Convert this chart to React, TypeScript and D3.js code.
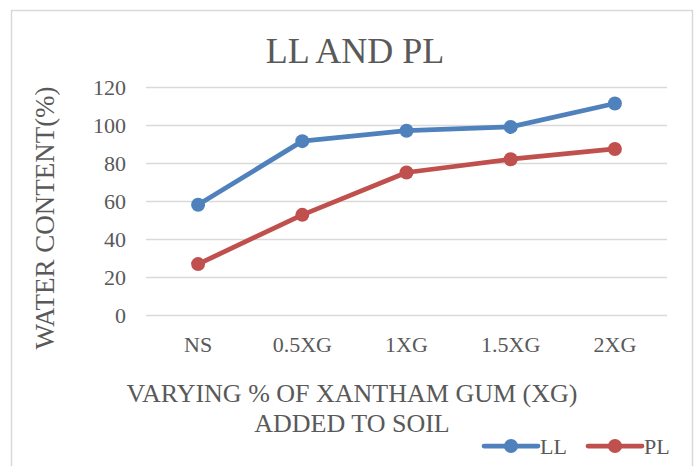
import { useEffect, useRef } from "react";
import * as d3 from "d3";

const categories = ["NS", "0.5XG", "1XG", "1.5XG", "2XG"];
const llValues = [58, 91.5, 97, 99, 111.3];
const plValues = [26.8, 52.7, 75, 82, 87.4];
const yTicks = [0, 20, 40, 60, 80, 100, 120];

const series = [
  { name: "LL", values: llValues, color: "#4F81BD" },
  { name: "PL", values: plValues, color: "#C0504D" },
];

const FONT = "'Liberation Serif', 'Times New Roman', serif";

const App = () => {
  const svgRef = useRef<SVGSVGElement | null>(null);

  useEffect(() => {
    if (!svgRef.current) return;
    const svg = d3.select(svgRef.current);
    svg.selectAll("*").remove();

    const width = 696;
    const height = 466;
    const margin = { top: 87, right: 29, bottom: 151, left: 146 };

    // chart frame
    svg
      .append("rect")
      .attr("x", 11.5)
      .attr("y", 10.5)
      .attr("width", 681)
      .attr("height", 480)
      .attr("fill", "#fff")
      .attr("stroke", "#d9d9d9")
      .attr("stroke-width", 1.5);

    const x = d3
      .scaleBand()
      .domain(categories)
      .range([margin.left, width - margin.right]);

    const y = d3
      .scaleLinear()
      .domain([0, 120])
      .range([height - margin.bottom, margin.top]);

    // gridlines + y labels
    const yAxis = svg
      .append("g")
      .attr("class", "y-axis")
      .attr("transform", `translate(${margin.left},0)`)
      .call(
        d3
          .axisLeft(y)
          .tickValues(yTicks)
          .tickSize(-(width - margin.left - margin.right))
          .tickPadding(20)
      );
    yAxis.select(".domain").remove();
    yAxis.selectAll("line").attr("stroke", "#d9d9d9").attr("stroke-width", 1.5);
    yAxis
      .selectAll("text")
      .attr("fill", "#595959")
      .style("font-size", "22px")
      .style("font-family", FONT);

    // x labels
    const xAxis = svg
      .append("g")
      .attr("class", "x-axis")
      .attr("transform", `translate(0,${height - margin.bottom})`)
      .call(d3.axisBottom(x).tickSize(0).tickPadding(21));
    xAxis.select(".domain").remove();
    xAxis
      .selectAll("text")
      .attr("fill", "#595959")
      .style("font-size", "22px")
      .style("font-family", FONT);

    // lines
    series.forEach((s) => {
      const line = d3
        .line<number>()
        .x((_, i) => (x(categories[i]) || 0) + x.bandwidth() / 2)
        .y((d) => y(d));
      svg
        .append("path")
        .datum(s.values)
        .attr("d", line)
        .attr("fill", "none")
        .attr("stroke", s.color)
        .attr("stroke-width", 4.75)
        .attr("stroke-linejoin", "round")
        .attr("stroke-linecap", "round");
      svg
        .append("g")
        .selectAll("circle")
        .data(s.values)
        .enter()
        .append("circle")
        .attr("cx", (_, i) => (x(categories[i]) || 0) + x.bandwidth() / 2)
        .attr("cy", (d) => y(d))
        .attr("r", 7)
        .attr("fill", s.color);
    });

    // title
    svg
      .append("text")
      .attr("x", 355)
      .attr("y", 63)
      .attr("text-anchor", "middle")
      .attr("fill", "#595959")
      .style("font-size", "36px")
      .style("font-family", FONT)
      .text("LL AND PL");

    // y title
    svg
      .append("text")
      .attr("transform", "translate(54,218) rotate(-90)")
      .attr("text-anchor", "middle")
      .attr("fill", "#595959")
      .style("font-size", "27px")
      .style("font-family", FONT)
      .text("WATER CONTENT(%)");

    // x title
    const xt = svg
      .append("text")
      .attr("text-anchor", "middle")
      .attr("fill", "#595959")
      .style("font-size", "26px")
      .style("font-family", FONT);
    xt.append("tspan").attr("x", 352).attr("y", 402).text("VARYING % OF XANTHAM GUM (XG)");
    xt.append("tspan").attr("x", 352).attr("y", 432).text("ADDED TO SOIL");

    // legend
    const legendX = [484, 588];
    series.forEach((s, i) => {
      const g = svg.append("g").attr("transform", `translate(${legendX[i]},446)`);
      g.append("line")
        .attr("x1", 0)
        .attr("x2", 54)
        .attr("stroke", s.color)
        .attr("stroke-width", 4.75)
        .attr("stroke-linecap", "round");
      g.append("circle").attr("cx", 27).attr("r", 7).attr("fill", s.color);
      g.append("text")
        .attr("x", 56)
        .attr("y", 7.5)
        .attr("fill", "#595959")
        .style("font-size", "22px")
        .style("font-family", FONT)
        .text(s.name);
    });
  }, []);

  return (
    <svg
      ref={svgRef}
      width={696}
      height={466}
      style={{ position: "absolute", left: 0, top: 0, background: "#fff" }}
    ></svg>
  );
};

export default App;
